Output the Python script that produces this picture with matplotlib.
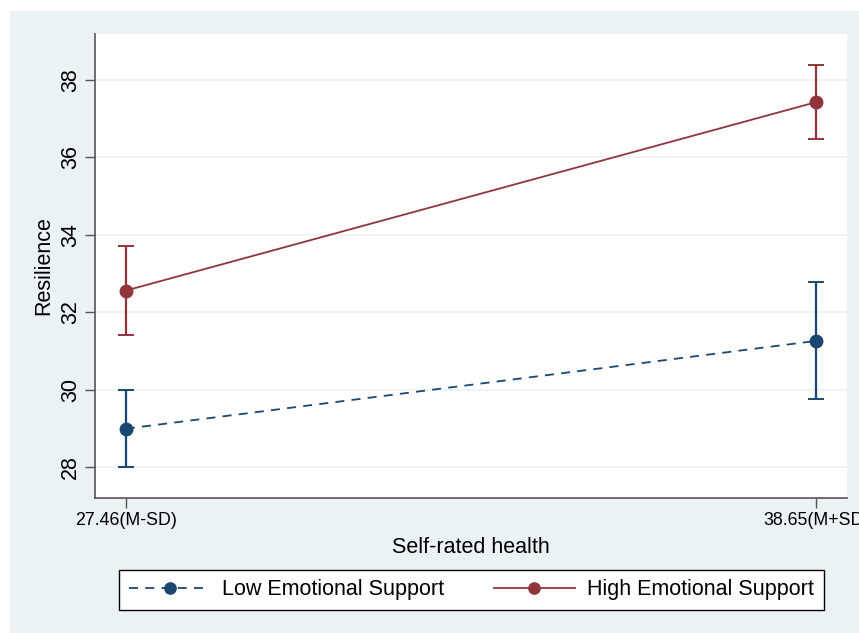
import matplotlib.pyplot as plt
from matplotlib.patches import Rectangle

plt.rcParams['font.family'] = ['Liberation Sans', 'DejaVu Sans']

x_vals = [27.46, 38.65]
x_labels = ['27.46(M-SD)', '38.65(M+SD)']

low_mean = [28.99, 31.26]
low_lo = [28.00, 29.75]
low_hi = [30.00, 32.79]

high_mean = [32.56, 37.43]
high_lo = [31.41, 36.48]
high_hi = [33.72, 38.39]

navy = '#1a476f'
maroon = '#90353b'
bg = '#eaf2f3'


def main():
    fig = plt.figure(figsize=(8.59, 6.33), dpi=100)
    fig.patches.append(Rectangle((10 / 859, 0), 1, 1 - 11 / 633, transform=fig.transFigure,
                                 facecolor=bg, edgecolor='none', zorder=-10))
    ax = fig.add_axes([95 / 859, 1 - 498 / 633, (847 - 95) / 859, (498 - 34) / 633])
    ax.set_facecolor('white')

    for m, lo, hi, c, ls, lab in [(low_mean, low_lo, low_hi, navy, (0, (5, 4)), 'Low Emotional Support'),
                                  (high_mean, high_lo, high_hi, maroon, '-', 'High Emotional Support')]:
        err = [[a - b for a, b in zip(m, lo)], [b - a for a, b in zip(m, hi)]]
        ax.errorbar(x_vals, m, yerr=err, fmt='none', ecolor=c, elinewidth=1.6, capsize=5.5, capthick=1.4)
        ax.plot(x_vals, m, color=c, linestyle=ls, linewidth=1.3, marker='o', markersize=9, label=lab)

    ax.set_xlim(26.96, 39.15)
    ax.set_ylim(27.2, 39.19)
    ax.set_xticks(x_vals)
    ax.set_xticklabels(x_labels, fontsize=12.8)
    ax.set_yticks([28, 30, 32, 34, 36, 38])
    ax.set_yticklabels(['28', '30', '32', '34', '36', '38'], rotation=90, va='center', fontsize=15.5)
    ax.grid(axis='y', color=bg, linewidth=1.2)
    ax.set_axisbelow(True)
    for s in ['top', 'right']:
        ax.spines[s].set_visible(False)
    for s in ['left', 'bottom']:
        ax.spines[s].set_color('#555555')
        ax.spines[s].set_linewidth(1.2)
    ax.tick_params(direction='out', length=7, color='#555555', width=1, pad=3)
    ax.set_xlabel('Self-rated health', fontsize=15.5, labelpad=6)
    ax.set_ylabel('Resilience', fontsize=15.5, labelpad=4)

    leg = ax.legend(loc='center', bbox_to_anchor=(471.5 / 859, 1 - 590 / 633), bbox_transform=fig.transFigure,
                    ncol=2, fontsize=15.5, frameon=True, fancybox=False, edgecolor='black', framealpha=1,
                    handlelength=3.77, columnspacing=2.3, borderpad=0.45, handletextpad=0.56, markerscale=0.9)
    leg.get_frame().set_linewidth(1)

    fig.savefig('out.png', dpi=100)


if __name__ == '__main__':
    main()
